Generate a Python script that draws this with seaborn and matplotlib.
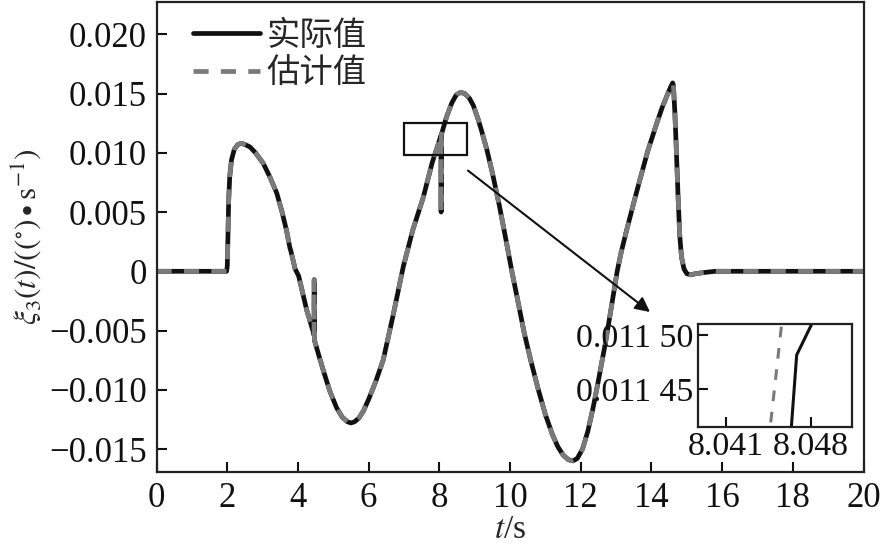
import numpy as np
import pandas as pd
import matplotlib
matplotlib.use("Agg")
import matplotlib.pyplot as plt
import seaborn as sns
from matplotlib.patches import Rectangle

# values
t_actual = [0, 1.98, 2.00, 2.02, 2.04, 2.07, 2.12, 2.20, 2.30, 2.40, 2.50, 2.64, 2.80, 3.02, 3.20,
            3.40, 3.55, 3.68, 3.77, 3.80, 3.92, 3.97, 4.02, 4.25, 4.44, 4.455, 4.46, 4.465, 4.60,
            4.72, 4.90, 5.09, 5.25, 5.40, 5.50, 5.60, 5.72, 5.85, 6.00, 6.20, 6.41, 6.70, 6.98,
            7.25, 7.54, 7.80, 8.040, 8.046, 8.050, 8.055, 8.20, 8.35, 8.48, 8.60, 8.72, 8.85,
            8.96, 9.10, 9.20, 9.34, 9.50, 9.70, 9.90, 10.05, 10.2, 10.4, 10.6, 10.8, 11.0, 11.2,
            11.35, 11.5, 11.65, 11.78, 11.9, 12.05, 12.2, 12.35, 12.5, 12.7, 12.85, 13.03, 13.15,
            13.3, 13.5, 13.67, 13.9, 14.15, 14.3, 14.45, 14.55, 14.6, 14.62, 14.66, 14.70, 14.75,
            14.80, 14.85, 14.92, 15.0, 15.1, 15.25, 15.5, 15.8, 20]
v_actual = [0, 0, 0.0004, 0.0030, 0.0060, 0.0080, 0.0094, 0.0103, 0.0107, 0.0108, 0.0107, 0.0105,
            0.0100, 0.0091, 0.0080, 0.0066, 0.0050, 0.0034, 0.0020, 0.0017, 0.0002, -0.0001,
            -0.0004, -0.0033, -0.0052, -0.0054, -0.0007, -0.0058, -0.0072, -0.0084, -0.0101,
            -0.0115, -0.0123, -0.0127, -0.0128, -0.0127, -0.0124, -0.0118, -0.0108, -0.0093,
            -0.0075, -0.0036, 0.0004, 0.0035, 0.0062, 0.0092, 0.01140, 0.01147, 0.0050, 0.01152,
            0.0130, 0.0142, 0.0149, 0.0151, 0.0150, 0.0146, 0.0140, 0.0128, 0.0118, 0.0103,
            0.0083, 0.0055, 0.0024, 0.0, -0.0022, -0.0052, -0.0077, -0.0100, -0.0121, -0.0138,
            -0.0148, -0.0155, -0.0159, -0.0160, -0.0158, -0.0150, -0.0135, -0.0115, -0.0092,
            -0.0060, -0.0033, 0.0, 0.0017, 0.0035, 0.0058, 0.0077, 0.0102, 0.0125, 0.0138, 0.0149,
            0.0156, 0.0159, 0.0157, 0.0135, 0.0105, 0.0065, 0.0030, 0.0012, 0.0002, -0.0002,
            -0.0003, -0.0002, -0.0001, 0, 0]
# the estimate lies on top of the actual curve at this scale
t_est = t_actual
v_est = v_actual

# zoomed window around t = 8.046 s
zoom_t_act = [8.04630, 8.04684, 8.04830]
zoom_v_act = [0.011400, 0.0114816, 0.011515]
zoom_t_est = [8.04450, 8.04565]
zoom_v_est = [0.011400, 0.011515]

yticks = [-0.015, -0.010, -0.005, 0, 0.005, 0.010, 0.015, 0.020]
ytick_labels = ["\u22120.015", "\u22120.010", "\u22120.005", "0", "0.005", "0.010", "0.015", "0.020"]
xticks = [0, 2, 4, 6, 8, 10, 12, 14, 16, 18, 20]
zoom_yticks = [0.01145, 0.01150]
zoom_ytick_labels = ["0.011 45", "0.011 50"]
zoom_xticks = [8.041, 8.048]
zoom_xtick_labels = ["8.041", "8.048"]

sns.set_theme(style="ticks")
plt.rcParams["font.family"] = ["Liberation Serif", "Noto Sans CJK SC"]
plt.rcParams["mathtext.fontset"] = "stix"
plt.rcParams["axes.unicode_minus"] = True

df_act = pd.DataFrame({"t": t_actual, "v": v_actual})
df_est = pd.DataFrame({"t": t_est, "v": v_est})

fig = plt.figure(figsize=(8.84, 5.5), dpi=100)
ax = fig.add_axes([0.1771, 0.1418, 0.7998, 0.8546])

sns.lineplot(data=df_act, x="t", y="v", ax=ax, color="#111111", lw=3.4,
             estimator=None, sort=False, label="实际值")
sns.lineplot(data=df_est, x="t", y="v", ax=ax, color="#7a7a7a", lw=3.4,
             estimator=None, sort=False, label="估计值")
ax.lines[1].set_dashes((3.2, 2.6))

ax.set_xlim(0, 20)
ax.set_ylim(-0.01694, 0.02273)
ax.set_xticks(xticks)
ax.set_xticklabels([str(x) for x in xticks])
ax.set_yticks(yticks)
ax.set_yticklabels(ytick_labels)
ax.tick_params(direction="in", length=7, width=1.5, labelsize=25, pad=7, colors="#111111")
for s in ax.spines.values():
    s.set_linewidth(1.6)
    s.set_color("#222222")
ax.set_xlabel(r"$\mathit{t}$/s", fontsize=24, labelpad=0)
ax.set_ylabel(r"$\xi_3(\mathit{t})/((^{\circ})\bullet\mathrm{s}^{-1})$", fontsize=22.5, labelpad=4)

leg = ax.legend(loc="upper left", bbox_to_anchor=(0.033, 0.995), frameon=False,
                handlelength=2.0, handletextpad=0.2, borderaxespad=0.0, labelspacing=0.1,
                prop={"family": ["Noto Sans CJK SC"], "size": 24})

# zoom box and arrow
ax.add_patch(Rectangle((7.00, 0.00981), 1.78, 0.0027, fill=False, lw=1.6, ec="#111111", zorder=5))
ax.annotate("", xy=(0.7353, 0.4327), xycoords="figure fraction",
            xytext=(8.81, 0.0085), textcoords="data",
            arrowprops=dict(arrowstyle="-|>", color="#111111", lw=1.5, mutation_scale=22,
                            shrinkA=0, shrinkB=0))

# inset
axin = fig.add_axes([0.7896, 0.2236, 0.1742, 0.1873])
axin.set_facecolor("white")
sns.lineplot(x=zoom_t_act, y=zoom_v_act, ax=axin, color="#111111", lw=2.2, estimator=None, sort=False)
sns.lineplot(x=zoom_t_est, y=zoom_v_est, ax=axin, color="#7a7a7a", lw=2.2, estimator=None, sort=False)
axin.lines[1].set_dashes((3.5, 3.5))
axin.set_xlim(8.03869, 8.05141)
axin.set_ylim(0.0114153, 0.0115101)
axin.set_xticks(zoom_xticks)
axin.set_xticklabels(zoom_xtick_labels)
axin.set_yticks(zoom_yticks)
axin.set_yticklabels(zoom_ytick_labels)
axin.tick_params(direction="in", length=7, width=1.5, labelsize=24.5, pad=3, colors="#111111")
for s in axin.spines.values():
    s.set_linewidth(1.6)
    s.set_color("#222222")
axin.set_xlabel("")
axin.set_ylabel("")

fig.savefig("out.png", dpi=100)
